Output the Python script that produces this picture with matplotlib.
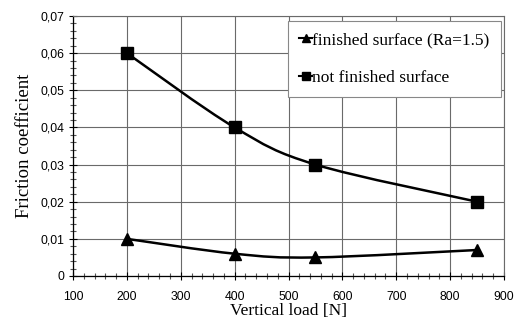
import matplotlib.pyplot as plt
import numpy as np
from matplotlib.path import Path
from matplotlib.patches import PathPatch
from matplotlib.ticker import MultipleLocator, FuncFormatter

load = [200, 400, 550, 850]
finished = [0.010, 0.006, 0.005, 0.007]
not_finished = [0.060, 0.040, 0.030, 0.020]

serif = ['Liberation Serif', 'DejaVu Serif']
sans = ['Liberation Sans', 'DejaVu Sans']

fig = plt.figure(figsize=(5.16, 3.22), dpi=100)
ax = fig.add_axes([73/516, 1 - 276/322, 431/516, 260/322])
ax.set_xlim(100, 900)
ax.set_ylim(0, 0.07)

ax.xaxis.set_major_locator(MultipleLocator(100))
ax.xaxis.set_minor_locator(MultipleLocator(20))
ax.yaxis.set_major_locator(MultipleLocator(0.01))
ax.yaxis.set_minor_locator(MultipleLocator(0.002))
ax.yaxis.set_major_formatter(FuncFormatter(
    lambda v, p: '0' if abs(v) < 1e-9 else ('%.2f' % v).replace('.', ',')))
ax.tick_params(which='both', direction='inout', color='black', width=0.8)
ax.tick_params(which='major', length=6)
ax.tick_params(which='minor', length=5, color='#555555')
ax.tick_params(labelsize=8.8)
for lab in ax.get_xticklabels() + ax.get_yticklabels():
    lab.set_family(sans)
ax.tick_params(axis='x', pad=8)

ax.grid(True, which='major', color='#6a6a6a', lw=0.8)
ax.set_axisbelow(True)
for s in ['top', 'right']:
    ax.spines[s].set_color('#6a6a6a')
    ax.spines[s].set_linewidth(0.8)
for s in ['left', 'bottom']:
    ax.spines[s].set_linewidth(0.9)

ax.set_xlabel('Vertical load [N]', family=serif, fontsize=12.5, labelpad=0)
ax.set_ylabel('Friction coefficient', family=serif, fontsize=13.5, labelpad=5)


def smooth(xs, ys):
    # Excel-like smoothed line: Catmull-Rom segments drawn as cubic Beziers in screen space
    pts = ax.transData.transform(np.column_stack([xs, ys]))
    n = len(pts)
    verts = [pts[0]]
    codes = [Path.MOVETO]
    for i in range(n - 1):
        p0 = pts[i - 1] if i > 0 else pts[i]
        p1, p2 = pts[i], pts[i + 1]
        p3 = pts[i + 2] if i + 2 < n else pts[i + 1]
        c1 = p1 + (p2 - p0) / 6
        c2 = p2 - (p3 - p1) / 6
        verts += [c1, c2, p2]
        codes += [Path.CURVE4] * 3
    verts = ax.transData.inverted().transform(np.array(verts))
    ax.add_patch(PathPatch(Path(verts, codes), fill=False, lw=1.8,
                           edgecolor='black', transform=ax.transData, zorder=3))


smooth(load, finished)
smooth(load, not_finished)
ax.plot(load, finished, ls='none', marker='^', ms=9, color='black', zorder=4)
ax.plot(load, not_finished, ls='none', marker='s', ms=8.5, color='black', zorder=4)

h1, = ax.plot([], [], '-^', color='black', ms=6, lw=1.5)
h2, = ax.plot([], [], '-s', color='black', ms=5.5, lw=1.5)
leg = ax.legend([h1, h2], ['finished surface (Ra=1.5)', 'not finished surface'],
                loc='upper right', bbox_to_anchor=(0.993, 0.982),
                prop={'family': serif, 'size': 12.5}, frameon=True, fancybox=False,
                edgecolor='#888888', framealpha=1, handlelength=0.7,
                handletextpad=0.05, labelspacing=1.25, borderpad=0.65,
                borderaxespad=0)
leg.get_frame().set_linewidth(0.8)

fig.savefig('out.png', dpi=100)
